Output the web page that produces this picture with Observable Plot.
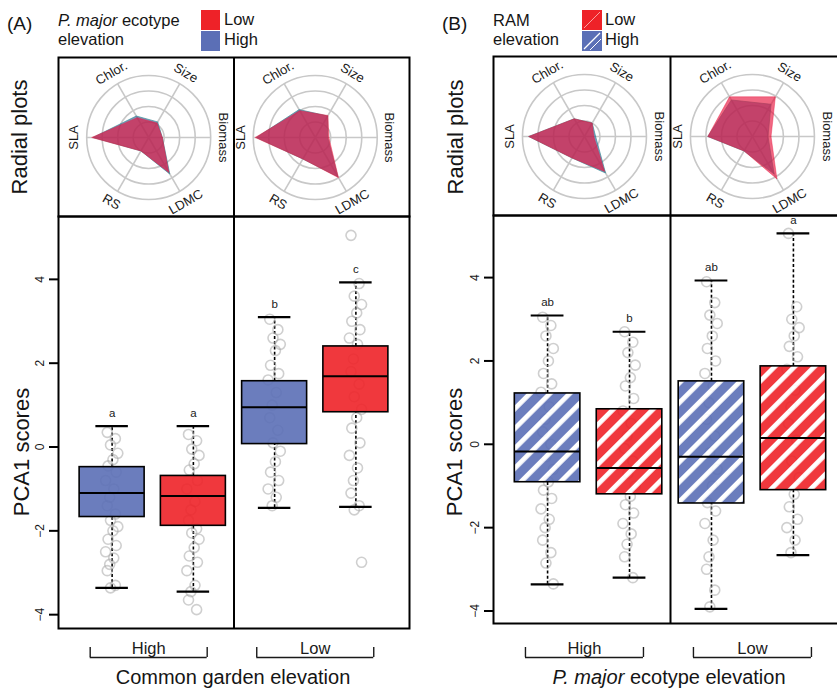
<!DOCTYPE html>
<html><head><meta charset="utf-8">
<script src="https://cdn.jsdelivr.net/npm/d3@7"></script>
<script src="https://cdn.jsdelivr.net/npm/@observablehq/plot@0.6"></script>
<style>
body{margin:0;background:#fff;}
#fig{position:relative;width:837px;height:691px;overflow:hidden;background:#fff;font-family:"Liberation Sans",Arial,Helvetica,sans-serif;color:#151515;}
.t{position:absolute;white-space:nowrap;line-height:1;}
.rot{transform:translate(-50%,-50%) rotate(-90deg);}
.ctr{transform:translateX(-50%);}
</style></head><body>
<svg width="0" height="0" style="position:absolute">
  <defs>
    <pattern id="stripeBlue" patternUnits="userSpaceOnUse" width="14" height="14" patternTransform="rotate(45)">
      <rect width="14" height="14" fill="#5b6fb6"/><rect width="4.8" height="14" fill="#ffffff"/>
    </pattern>
    <pattern id="stripeRed" patternUnits="userSpaceOnUse" width="14" height="14" patternTransform="rotate(45)">
      <rect width="14" height="14" fill="#ee2228"/><rect width="4.8" height="14" fill="#ffffff"/>
    </pattern>
  </defs>
</svg>
<div id="fig"></div>
<script>
// ---------------- DATA ----------------
const positions = [1, 2, 3, 4];
const groupCenters = [1.45, 3.5];
const groupLabels = ["High", "Low"];
const boxEcotype = ["High", "Low", "High", "Low"];
const yTicks = [-4, -2, 0, 2, 4];

// Panel A: common garden elevation (High | Low), ecotype colour
const A_lowWhisker  = [-3.36, -3.45, -1.45, -1.43];
const A_q1          = [-1.67, -1.88, 0.07, 0.83];
const A_median      = [-1.10, -1.17, 0.95, 1.69];
const A_q3          = [-0.48, -0.69, 1.57, 2.40];
const A_highWhisker = [0.50, 0.50, 3.10, 3.93];
const A_letters     = ["a", "a", "b", "c"];
const A_pts1 = [0.35, 0.2, 0.05, -0.15, -0.3, -0.45, -0.6, -0.8, -1.0, -1.2, -1.4, -1.6, -1.75, -1.9, -2.0, -2.2, -2.35, -2.5, -2.65, -2.8, -2.95, -3.3, -3.36];
const A_pts2 = [0.3, 0.15, -0.05, -0.2, -0.4, -0.55, -0.8, -1.0, -1.3, -1.5, -1.75, -1.95, -2.05, -2.2, -2.4, -2.6, -2.75, -2.95, -3.3, -3.45, -3.65, -3.88];
const A_pts3 = [3.05, 2.8, 2.6, 2.45, 2.3, 1.95, 1.75, 1.6, 1.3, 1.0, 0.7, 0.4, 0.1, -0.1, -0.35, -0.6, -0.8, -1.0, -1.2, -1.4];
const A_pts4 = [5.05, 3.9, 3.6, 3.4, 3.2, 3.0, 2.8, 2.6, 2.45, 2.1, 1.8, 1.5, 1.2, 0.9, 0.7, 0.45, 0.1, -0.2, -0.5, -0.8, -1.1, -1.4, -1.5, -2.75];

// Panel B: P. major ecotype elevation (High | Low), RAM colour
const B_lowWhisker  = [-3.36, -3.20, -3.95, -2.66];
const B_q1          = [-0.91, -1.20, -1.42, -1.10];
const B_median      = [-0.17, -0.57, -0.30, 0.15];
const B_q3          = [1.22, 0.84, 1.51, 1.87];
const B_highWhisker = [3.09, 2.70, 3.93, 5.06];
const B_letters     = ["ab", "b", "ab", "a"];
const B_pts1 = [3.05, 2.85, 2.6, 2.3, 2.0, 1.7, 1.45, 1.25, 0.9, 0.6, 0.3, 0, -0.3, -0.6, -0.9, -1.1, -1.3, -1.55, -1.8, -2.0, -2.3, -2.6, -2.85, -3.35];
const B_pts2 = [2.7, 2.45, 2.2, 1.9, 1.6, 1.4, 1.1, 0.8, 0.5, 0.2, -0.1, -0.4, -0.7, -1.0, -1.25, -1.45, -1.65, -1.9, -2.15, -2.4, -2.7, -3.2];
const B_pts3 = [3.9, 3.4, 3.1, 2.9, 2.6, 2.3, 2.0, 1.7, 1.4, 1.0, 0.6, 0.2, -0.2, -0.6, -1.0, -1.4, -1.6, -1.9, -2.3, -2.7, -3.0, -3.5, -3.9];
const B_pts4 = [5.06, 3.3, 3.0, 2.8, 2.6, 2.35, 2.1, 1.8, 1.3, 0.9, 0.5, 0.1, -0.4, -0.8, -1.2, -1.5, -1.8, -2.0, -2.3, -2.6];
const jitter = [-0.06, 0.04, -0.02, 0.07, 0.01, -0.05, 0.05, -0.08, 0.02, -0.03];

// Radial plots
const radialAxes   = ["Biomass", "Size", "Chlor.", "SLA", "RS", "LDMC"];
const radialAngles = [0, 60, 120, 180, 240, 300];
const ringLevels   = [0.25, 0.5, 0.75, 1];
const A_rad_high_low  = [0.22, 0.27, 0.37, 0.92, 0.25, 0.65];
const A_rad_high_high = [0.22, 0.29, 0.40, 0.90, 0.25, 0.68];
const A_rad_low_low   = [0.22, 0.41, 0.50, 0.97, 0.40, 0.75];
const A_rad_low_high  = [0.20, 0.40, 0.52, 0.95, 0.40, 0.73];
const B_rad_high_low  = [0.15, 0.25, 0.33, 0.90, 0.40, 0.65];
const B_rad_high_high = [0.18, 0.25, 0.33, 0.90, 0.40, 0.68];
const B_rad_low_low   = [0.30, 0.74, 0.74, 0.72, 0.27, 0.79];
const B_rad_low_high  = [0.25, 0.60, 0.68, 0.72, 0.27, 0.70];

// ---------------- DRAWING ----------------
const FONT = '"Liberation Sans", Arial, Helvetica, sans-serif';
const RED = "#ee2228", BLUE = "#5b6fb6";
const POLY_RED = "#e8163f", POLY_BLUE = "#2f5590";
const fig = document.getElementById("fig");
const rad = a => a * Math.PI / 180;
const XDOM = [0.34, 4.66];

function put(node, left, top) {
  node.style.position = "absolute";
  node.style.left = left + "px";
  node.style.top = top + "px";
  fig.appendChild(node);
}
function text(html, left, top, size, extra = "") {
  const d = document.createElement("div");
  d.className = "t " + extra;
  d.style.fontSize = size + "px";
  d.innerHTML = html;
  put(d, left, top);
  return d;
}

function radialPlot({L, Rt, top, bottom, cy, cells}) {
  const m = 3, R = 62;
  const pxPerX = (Rt - L) / (XDOM[1] - XDOM[0]);
  const kx = R / pxPerX;
  const polys = [];
  cells.forEach((c, ci) => {
    [["High", c.high], ["Low", c.low]].forEach(([s, vals]) => {
      const pts = radialAngles.map((a, i) => ({key: ci + s, series: s,
        x: c.center + vals[i] * kx * Math.cos(rad(a)), y: vals[i] * Math.sin(rad(a))}));
      pts.push({...pts[0]});
      polys.push(...pts);
    });
  });
  const rings = cells.flatMap(c => ringLevels.map(l => ({cx: c.center, level: l})));
  const spokes = cells.flatMap(c => radialAngles.map(a => ({cx: c.center, a})));
  const labels = cells.flatMap(c => radialAxes.map((t, i) => ({cx: c.center, a: radialAngles[i], t})));
  const rot = a => { let r = 90 - a; while (r < -90) r += 180; while (r > 90) r -= 180; return r; };
  const LR = 1.2;
  const svg = Plot.plot({
    width: Rt - L + 2 * m, height: bottom - top + 2 * m, margin: m,
    x: {domain: XDOM, axis: null},
    y: {domain: [-(bottom - cy) / R, (cy - top) / R], axis: null},
    r: {type: "identity"},
    style: {fontFamily: FONT, background: "transparent", overflow: "visible"},
    marks: [
      Plot.dot(rings, {x: "cx", y: () => 0, r: d => d.level * R, stroke: "#c8c8c8", strokeWidth: 1.6, fill: "none"}),
      Plot.link(spokes, {x1: "cx", y1: () => 0, x2: d => d.cx + kx * Math.cos(rad(d.a)), y2: d => Math.sin(rad(d.a)), stroke: "#c8c8c8", strokeWidth: 1.6}),
      Plot.line(polys.filter(p => p.series === "High"), {x: "x", y: "y", z: "key", fill: POLY_BLUE, fillOpacity: 0.62, stroke: "#3f8f9a", strokeOpacity: 0.7, strokeWidth: 1}),
      Plot.line(polys.filter(p => p.series === "Low"), {x: "x", y: "y", z: "key", fill: POLY_RED, fillOpacity: 0.65, stroke: POLY_RED, strokeOpacity: 0.4, strokeWidth: 1}),
      Plot.text(labels, {x: d => d.cx + LR * kx * Math.cos(rad(d.a)), y: d => LR * Math.sin(rad(d.a)), text: "t", rotate: d => rot(d.a), fontSize: 13, fill: "#1a1a1a"}),
      Plot.ruleX([2.5], {stroke: "black", strokeWidth: 2}),
      Plot.frame({stroke: "black", strokeWidth: 2})
    ]
  });
  put(svg, L - m, top - m);
}

function boxPlot({L, Rt, top, bottom, ydom, lo, q1, med, q3, hi, letters, pts, fills}) {
  const m = 3, ML = 62;
  const rows = positions.map((p, i) => ({pos: p, lo: lo[i], q1: q1[i], med: med[i], q3: q3[i], hi: hi[i], letter: letters[i], fill: fills[boxEcotype[i]]}));
  const points = pts.flatMap((arr, i) => arr.map((y, j) => ({x: positions[i] + jitter[j % jitter.length], y})));
  const svg = Plot.plot({
    width: Rt - L + ML + m, height: bottom - top + 2 * m,
    marginLeft: ML, marginRight: m, marginTop: m, marginBottom: m,
    x: {domain: XDOM, axis: null},
    y: {domain: ydom, axis: null},
    style: {fontFamily: FONT, background: "transparent", overflow: "visible"},
    marks: [
      Plot.axisY({ticks: yTicks, tickSize: 9, tickRotate: -90, tickPadding: 6, fontSize: 12, strokeWidth: 2, label: null, stroke: "black", fill: "#1a1a1a"}),
      Plot.ruleX(rows, {x: "pos", y1: "lo", y2: "q1", stroke: "black", strokeWidth: 1.6, strokeDasharray: "3,2.2"}),
      Plot.ruleX(rows, {x: "pos", y1: "q3", y2: "hi", stroke: "black", strokeWidth: 1.6, strokeDasharray: "3,2.2"}),
      Plot.dot(points, {x: "x", y: "y", r: 5, stroke: "#a8a8a8", strokeOpacity: 0.55, strokeWidth: 1.6, fill: "none"}),
      Plot.rect(rows, {x1: d => d.pos - 0.4, x2: d => d.pos + 0.4, y1: "q1", y2: "q3", fill: "fill", fillOpacity: 0.9, stroke: "black", strokeWidth: 1.6}),
      Plot.ruleY(rows, {y: "med", x1: d => d.pos - 0.4, x2: d => d.pos + 0.4, stroke: "black", strokeWidth: 2}),
      Plot.ruleY(rows, {y: "lo", x1: d => d.pos - 0.2, x2: d => d.pos + 0.2, stroke: "black", strokeWidth: 2.2}),
      Plot.ruleY(rows, {y: "hi", x1: d => d.pos - 0.2, x2: d => d.pos + 0.2, stroke: "black", strokeWidth: 2.2}),
      Plot.text(rows, {x: "pos", y: "hi", text: "letter", dy: -13, fontSize: 11.5, fill: "#1a1a1a"}),
      Plot.ruleX([2.5], {stroke: "black", strokeWidth: 2}),
      Plot.frame({stroke: "black", strokeWidth: 2})
    ]
  });
  put(svg, L - ML, top - m);
}

function bracketPlot({L, Rt, top}) {
  const ML = 62, m = 3, H = 27;
  const g = groupCenters.map((c, i) => ({c, label: groupLabels[i]}));
  const svg = Plot.plot({
    width: Rt - L + ML + m, height: H, marginLeft: ML, marginRight: m, marginTop: 0, marginBottom: 0,
    x: {domain: XDOM, axis: null},
    y: {domain: [0, H], axis: null},
    style: {fontFamily: FONT, background: "transparent", overflow: "visible"},
    marks: [
      Plot.ruleY(g, {y: () => 5, x1: d => d.c - 0.72, x2: d => d.c + 0.72, stroke: "#1a1a1a", strokeWidth: 1.4}),
      Plot.ruleX(g, {x: d => d.c - 0.72, y1: () => 5, y2: () => 15, stroke: "#1a1a1a", strokeWidth: 1.4}),
      Plot.ruleX(g, {x: d => d.c + 0.72, y1: () => 5, y2: () => 15, stroke: "#1a1a1a", strokeWidth: 1.4}),
      Plot.text(g, {x: "c", y: () => 9, text: "label", fontSize: 16.5, lineAnchor: "bottom", fill: "#1a1a1a"})
    ]
  });
  put(svg, L - ML, top);
}

// Panel A
radialPlot({L: 58, Rt: 409, top: 57, bottom: 216, cy: 137, cells: [
  {center: groupCenters[0], high: A_rad_high_high, low: A_rad_high_low},
  {center: groupCenters[1], high: A_rad_low_high, low: A_rad_low_low}]});
boxPlot({L: 58, Rt: 409, top: 216, bottom: 628, ydom: [-4.33, 5.5],
  lo: A_lowWhisker, q1: A_q1, med: A_median, q3: A_q3, hi: A_highWhisker, letters: A_letters,
  pts: [A_pts1, A_pts2, A_pts3, A_pts4], fills: {High: BLUE, Low: RED}});
bracketPlot({L: 58, Rt: 409, top: 635});

// Panel B
radialPlot({L: 493, Rt: 847, top: 56, bottom: 215, cy: 136, cells: [
  {center: groupCenters[0], high: B_rad_high_high, low: B_rad_high_low},
  {center: groupCenters[1], high: B_rad_low_high, low: B_rad_low_low}]});
boxPlot({L: 493, Rt: 847, top: 215, bottom: 623, ydom: [-4.3, 5.49],
  lo: B_lowWhisker, q1: B_q1, med: B_median, q3: B_q3, hi: B_highWhisker, letters: B_letters,
  pts: [B_pts1, B_pts2, B_pts3, B_pts4], fills: {High: "url(#stripeBlue)", Low: "url(#stripeRed)"}});
bracketPlot({L: 493, Rt: 847, top: 635});

// Texts & legends
text("(A)", 7, 14, 19);
text("<i>P. major</i> ecotype", 58, 12, 16.5);
text("elevation", 58, 31, 16.5);
text("Low", 224, 11, 16.5);
text("High", 224, 31, 16.5);
text('<svg width="19" height="41"><rect x="0" y="0" width="19" height="20" fill="' + RED + '"/><rect x="0" y="21" width="19" height="20" fill="' + BLUE + '"/></svg>', 201, 10, 10);

text("(B)", 442, 14, 19);
text("RAM", 493, 12, 16.5);
text("elevation", 493, 31, 16.5);
text("Low", 605, 11, 16.5);
text("High", 605, 31, 16.5);
text('<svg width="20" height="41"><rect x="0" y="0" width="20" height="20" fill="' + RED + '"/><line x1="2" y1="18" x2="18" y2="2" stroke="#f8a0a0" stroke-width="1"/><rect x="0" y="21" width="20" height="20" fill="' + BLUE + '"/><line x1="2" y1="39" x2="18" y2="23" stroke="#ffffff" stroke-width="1.2"/><line x1="8" y1="40" x2="19" y2="29" stroke="#ffffff" stroke-width="1"/></svg>', 582, 10, 10);

text("Radial plots", 20, 137, 22, "rot");
text("Radial plots", 456, 137, 22, "rot");
text("PCA1 scores", 22, 452, 22, "rot");
text("PCA1 scores", 455, 452, 22, "rot");

text("Common garden elevation", 233, 667, 20, "ctr");
text("<i>P. major</i> ecotype elevation", 669, 667, 20, "ctr");
</script></body></html>
